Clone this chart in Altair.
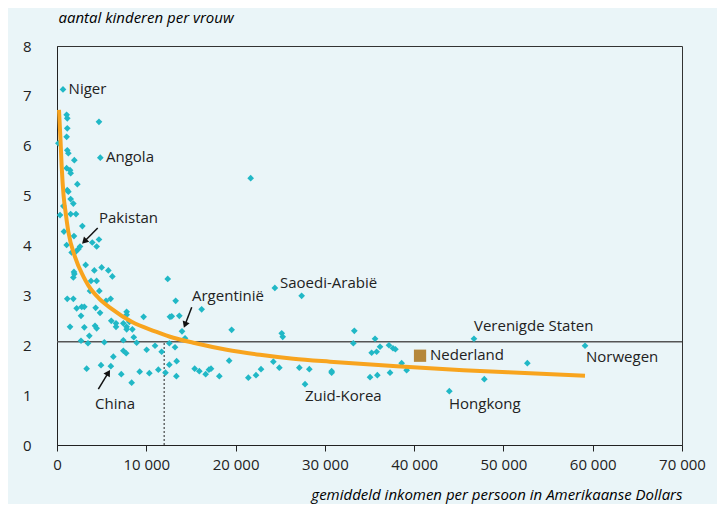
import altair as alt
import pandas as pd

# scatter: income (USD) and children per woman
inc = [672, 1080, 1150, 4700, 1150, 1080, 150, 1150, 1270, 4850, 1940, 1080, 1460, 1530, 2280,
       1150, 1270, 1530, 1830, 710, 1530, 2130, 340, 2840, 780, 1900, 4700, 3950, 4440, 1080,
       2580, 2130, 1640, 2400, 3210, 5000, 4180, 5750, 1900, 1830, 3810, 4440, 6200, 4740, 3700,
       1940, 12400, 1150, 1830, 6010, 5490, 13290, 2200, 2770, 3060, 4330, 4820, 7800, 7800, 16200,
       2690, 9700, 12650, 12850, 13700, 6080, 6610, 7430, 8100, 1460, 3060, 4260, 4440, 6610, 7800,
       7800, 8440, 19560, 14000, 3620, 8600, 14340, 2690, 3470, 5300, 7430, 8920, 10980, 10040, 11720,
       12580, 13220, 7430, 7750, 6310, 13400, 3320, 4930, 6030, 7200, 8360, 9260, 10340, 11350, 12150,
       12580, 13370, 15420, 15940, 16650, 17020, 17250, 18180, 19280, 21430, 22290, 22850, 24230, 24900, 27140,
       28260, 30760, 30760, 27780, 21690, 24400, 27400, 25170, 25280, 33300, 33190, 35620, 36180, 35800, 35240,
       37180, 37630, 37900, 38600, 39160, 37300, 35880, 35060, 46700, 52680, 47860, 43940, 59140]
kids = [7.13, 6.62, 6.55, 6.48, 6.35, 6.18, 6.05, 5.91, 5.85, 5.76, 5.71, 5.55, 5.51, 5.45, 5.23,
        5.11, 5.08, 4.93, 4.84, 4.79, 4.63, 4.63, 4.61, 4.39, 4.28, 4.19, 4.12, 4.06, 3.98, 4.01,
        3.98, 3.88, 3.86, 3.93, 3.61, 3.56, 3.50, 3.50, 3.47, 3.36, 3.29, 3.29, 3.38, 3.09, 3.09,
        3.43, 3.33, 2.93, 2.93, 2.93, 2.89, 2.89, 2.74, 2.77, 2.77, 2.75, 2.65, 2.67, 2.61, 2.72,
        2.59, 2.57, 2.57, 2.58, 2.59, 2.49, 2.44, 2.44, 2.47, 2.37, 2.36, 2.39, 2.34, 2.37, 2.37,
        2.32, 2.32, 2.31, 2.28, 2.19, 2.16, 2.14, 2.09, 2.04, 2.06, 2.10, 2.05, 1.99, 1.91, 1.87,
        2.04, 1.96, 1.89, 1.84, 1.77, 1.68, 1.53, 1.60, 1.58, 1.42, 1.25, 1.47, 1.44, 1.51, 1.45,
        1.61, 1.38, 1.53, 1.48, 1.42, 1.51, 1.53, 1.38, 1.69, 1.35, 1.40, 1.52, 1.67, 1.55, 1.55,
        1.52, 1.48, 1.45, 1.22, 5.35, 3.15, 2.99, 2.24, 2.17, 2.29, 2.04, 2.13, 1.97, 1.87, 1.85,
        2.00, 1.94, 1.92, 1.64, 1.50, 1.45, 1.40, 1.36, 2.13, 1.64, 1.32, 1.08, 1.99]

# trend curve
curve_x = [224, 392, 526, 728, 952, 1266, 2016, 2946, 3506, 4693, 6126, 8366, 10976, 13026,
           15266, 19006, 22736, 26466, 30576, 38046, 45506, 53000, 59136]
curve_y = [6.72, 6.12, 5.58, 5.02, 4.68, 4.28, 3.77, 3.38, 3.20, 2.94, 2.73, 2.47, 2.28, 2.15,
           2.05, 1.91, 1.81, 1.73, 1.67, 1.58, 1.50, 1.44, 1.39]

# Nederland
nl_x = [40660]
nl_y = [1.79]

# reference lines
ref_level = [2.07]
ref_income = [12000]

# labels
lab_text = ["Niger", "Angola", "Pakistan", "Argentinië", "Saoedi-Arabië", "Verenigde Staten",
            "Nederland", "Norwegen", "Zuid-Korea", "Hongkong", "China"]
lab_x = [1300, 5490, 4700, 15120, 24980, 46700, 41780, 59250, 27780, 43900, 4260]
lab_y = [7.14, 5.77, 4.55, 2.99, 3.25, 2.39, 1.80, 1.76, 0.98, 0.82, 0.82]

# arrows (start -> tip)
arr_x1 = [4560, 15090, 4630]
arr_y1 = [4.35, 2.76, 1.12]
arr_x2 = [3060, 14340, 5750]
arr_y2 = [4.08, 2.41, 1.45]
arr_ang = [225, 201, 32]

FONT = "Open Sans"
BG = "#eaf5f8"

pts = pd.DataFrame({"x": inc, "y": kids})
crv = pd.DataFrame({"x": curve_x, "y": curve_y})
nl = pd.DataFrame({"x": nl_x, "y": nl_y})
labs = pd.DataFrame({"t": lab_text, "x": lab_x, "y": lab_y})
arr = pd.DataFrame({"x1": arr_x1, "y1": arr_y1, "x2": arr_x2, "y2": arr_y2, "a": arr_ang})
hl = pd.DataFrame({"y": ref_level})
vl = pd.DataFrame({"x": ref_income, "y0": [0], "y1": ref_level})

xs = alt.Scale(domain=[0, 70000], nice=False)
ys = alt.Scale(domain=[0, 8], nice=False)

xax = alt.Axis(values=list(range(0, 70001, 10000)),
               labelExpr="replace(format(datum.value, ','), ',', ' ')",
               title="gemiddeld inkomen per persoon in Amerikaanse Dollars",
               titleFontStyle="italic", titleFontWeight="normal", titleFont=FONT, titleFontSize=15,
               titleAnchor="end", titleAlign="right", titleX=625, titleY=54, titleBaseline="alphabetic",
               labelFont=FONT, labelFontSize=15, labelColor="#222", labelPadding=6,
               domainColor="#222", tickColor="#222", tickSize=6, grid=False, labelFlush=False)
yax = alt.Axis(values=list(range(0, 9)), title="aantal kinderen per vrouw",
               titleFontStyle="italic", titleFontWeight="normal", titleFont=FONT, titleFontSize=15,
               titleAngle=0, titleAlign="left", titleX=1, titleY=-24, titleBaseline="alphabetic",
               labelFont=FONT, labelFontSize=15, labelColor="#222", labelPadding=26,
               domainColor="#222", ticks=False, grid=False)

hline = alt.Chart(hl).mark_rule(color="#555", strokeWidth=1.6).encode(y=alt.Y("y:Q", scale=ys, axis=yax))
vline = alt.Chart(vl).mark_rule(color="#222", strokeWidth=1, strokeDash=[2, 2]).encode(
    x=alt.X("x:Q", scale=xs, axis=xax), y=alt.Y("y0:Q", scale=ys), y2="y1:Q")

scatter = alt.Chart(pts).mark_point(shape="diamond", filled=True, size=45, color="#21b8c6", opacity=1).encode(
    x=alt.X("x:Q", scale=xs, axis=xax), y=alt.Y("y:Q", scale=ys, axis=yax))

line = alt.Chart(crv).mark_line(color="#f8a41e", strokeWidth=4, interpolate="monotone").encode(
    x=alt.X("x:Q", scale=xs), y=alt.Y("y:Q", scale=ys))

nlmark = alt.Chart(nl).mark_point(shape="square", filled=True, size=150, color="#b5873a", opacity=1).encode(
    x=alt.X("x:Q", scale=xs), y=alt.Y("y:Q", scale=ys))

text = alt.Chart(labs).mark_text(align="left", baseline="middle", font=FONT, fontSize=15, color="#222").encode(
    x=alt.X("x:Q", scale=xs), y=alt.Y("y:Q", scale=ys), text="t:N")

arrow_line = alt.Chart(arr).mark_rule(color="#111", strokeWidth=1.5).encode(
    x=alt.X("x1:Q", scale=xs), y=alt.Y("y1:Q", scale=ys), x2="x2:Q", y2="y2:Q")
arrow_head = alt.Chart(arr).mark_point(shape="triangle-up", filled=True, size=55, color="#111", opacity=1).encode(
    x=alt.X("x2:Q", scale=xs), y=alt.Y("y2:Q", scale=ys), angle=alt.Angle("a:Q", scale=None))

chart = alt.layer(hline, vline, scatter, line, nlmark, arrow_line, arrow_head, text).properties(
    width=625, height=399,
    autosize=alt.AutoSizeParams(type="none"),
    padding={"left": 49, "top": 38, "right": 35, "bottom": 59},
    background=BG,
).configure_view(stroke="#333", strokeWidth=1, fill=BG)

chart.save("out.html", embed_options={"renderer": "svg", "actions": False})
